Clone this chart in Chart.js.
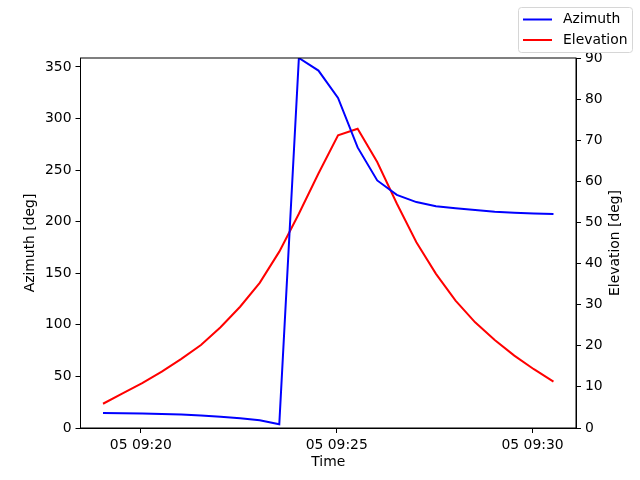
<!DOCTYPE html>
<html>
<head>
<meta charset="utf-8">
<script src="https://cdn.jsdelivr.net/npm/chart.js@4/dist/chart.umd.min.js"></script>
<style>
    html, body { margin: 0; padding: 0; background: #fff; }
    #wrap { width: 640px; height: 480px; }
</style>
</head>
<body>
<div id="wrap"><canvas id="chart" width="640" height="480"></canvas></div>
<script>
// samples every 30 s
const times = [
    "09:19:02", "09:19:32", "09:20:02", "09:20:32", "09:21:02", "09:21:32",
    "09:22:02", "09:22:32", "09:23:02", "09:23:32", "09:24:02", "09:24:32",
    "09:25:02", "09:25:32", "09:26:02", "09:26:32", "09:27:02", "09:27:32",
    "09:28:02", "09:28:32", "09:29:02", "09:29:32", "09:30:02", "09:30:32"
];
const azimuth = [
    14.6, 14.3, 14.0, 13.6, 13.0, 12.0, 11.0, 9.5, 7.5, 3.6, 358.7, 346.5,
    320.0, 272.0, 240.0, 226.0, 219.0, 215.0, 213.0, 211.3, 209.7, 208.7, 208.0, 207.4
];
const elevation = [
    5.9, 8.4, 10.9, 13.7, 16.8, 20.2, 24.5, 29.5, 35.3, 42.9, 52.1, 61.9,
    71.2, 72.8, 64.7, 54.6, 45.2, 37.5, 31.0, 25.7, 21.4, 17.6, 14.3, 11.3
];
const timeTicks = ["09:20", "09:25", "09:30"];
const azTicks = [0, 50, 100, 150, 200, 250, 300, 350];
const elTicks = [0, 10, 20, 30, 40, 50, 60, 70, 80, 90];
const dayLabel = "05";

const FONT = "'DejaVu Sans', sans-serif";

// minutes after 09:00
const toMinutes = (t) => {
    const [h, m, s] = t.split(":").map(Number);
    return (h - 9) * 60 + m + (s || 0) / 60;
};
const xs = times.map(toMinutes);
const xMin = xs[0], xMax = xs[xs.length - 1];
const xPad = (xMax - xMin) * 0.05;

const fixTicks = (list) => (scale) => {
    scale.ticks = list.map(v => ({ value: v }));
};

const axisStyle = {
    grid: { display: true, drawOnChartArea: false, drawTicks: true, tickLength: 5, color: "#000", lineWidth: 1 },
    border: { display: true, color: "#000", width: 1 },
    ticks: { color: "#000", padding: 4, font: { family: FONT, size: 13.9 } }
};

const frame = {
    id: "frame",
    afterDraw(chart) {
        const { ctx, chartArea: a } = chart;
        ctx.save();
        ctx.strokeStyle = "#000";
        ctx.lineWidth = 1;
        ctx.strokeRect(a.left, a.top, a.right - a.left, a.bottom - a.top);

        // axis titles
        ctx.fillStyle = "#000";
        ctx.font = `13.9px ${FONT}`;
        ctx.textAlign = "center";
        ctx.textBaseline = "middle";
        ctx.fillText("Time", (a.left + a.right) / 2, 462);
        const midY = (a.top + a.bottom) / 2;
        [["Azimuth [deg]", 30], ["Elevation [deg]", 615]].forEach(([txt, x]) => {
            ctx.save();
            ctx.translate(x, midY);
            ctx.rotate(-Math.PI / 2);
            ctx.fillText(txt, 0, 0);
            ctx.restore();
        });

        // legend box, matplotlib style
        const bx = 518.5, by = 7.5, bw = 114, bh = 45, r = 3;
        ctx.beginPath();
        ctx.moveTo(bx + r, by);
        ctx.arcTo(bx + bw, by, bx + bw, by + bh, r);
        ctx.arcTo(bx + bw, by + bh, bx, by + bh, r);
        ctx.arcTo(bx, by + bh, bx, by, r);
        ctx.arcTo(bx, by, bx + bw, by, r);
        ctx.closePath();
        ctx.fillStyle = "rgba(255,255,255,0.8)";
        ctx.fill();
        ctx.strokeStyle = "#d6d6d6";
        ctx.stroke();
        ctx.textAlign = "left";
        chart.data.datasets.forEach((ds, i) => {
            const y = 19.5 + i * 20.5;
            ctx.strokeStyle = ds.borderColor;
            ctx.lineWidth = 2;
            ctx.beginPath();
            ctx.moveTo(523, y);
            ctx.lineTo(552, y);
            ctx.stroke();
            ctx.fillStyle = "#000";
            ctx.fillText(ds.label, 563, y);
        });
        ctx.restore();
    }
};

new Chart(document.getElementById("chart"), {
    type: "line",
    data: {
        datasets: [
            {
                label: "Azimuth",
                data: xs.map((x, i) => ({ x, y: azimuth[i] })),
                borderColor: "#0000ff",
                borderWidth: 2,
                pointRadius: 0,
                yAxisID: "yAz"
            },
            {
                label: "Elevation",
                data: xs.map((x, i) => ({ x, y: elevation[i] })),
                borderColor: "#ff0000",
                borderWidth: 2,
                pointRadius: 0,
                yAxisID: "yEl"
            }
        ]
    },
    options: {
        responsive: false,
        devicePixelRatio: 1,
        animation: false,
        layout: { padding: { top: 58, left: 0, right: 0, bottom: 0 } },
        plugins: { legend: { display: false }, tooltip: { enabled: false } },
        scales: {
            x: {
                type: "linear",
                min: xMin - xPad,
                max: xMax + xPad,
                ...axisStyle,
                ticks: {
                    ...axisStyle.ticks,
                    maxRotation: 0,
                    callback: (v) => `${dayLabel} 09:${String(v).padStart(2, "0")}`
                },
                afterBuildTicks: fixTicks(timeTicks.map(toMinutes)),
                afterFit: (s) => { s.height = 52; }
            },
            yAz: {
                position: "left",
                min: 0,
                max: Math.max(...azimuth),
                ...axisStyle,
                afterBuildTicks: fixTicks(azTicks),
                afterFit: (s) => { s.width = 80.5; }
            },
            yEl: {
                position: "right",
                min: 0,
                max: 90,
                ...axisStyle,
                afterBuildTicks: fixTicks(elTicks),
                afterFit: (s) => { s.width = 64; }
            }
        }
    },
    plugins: [frame]
});
</script>
</body>
</html>
